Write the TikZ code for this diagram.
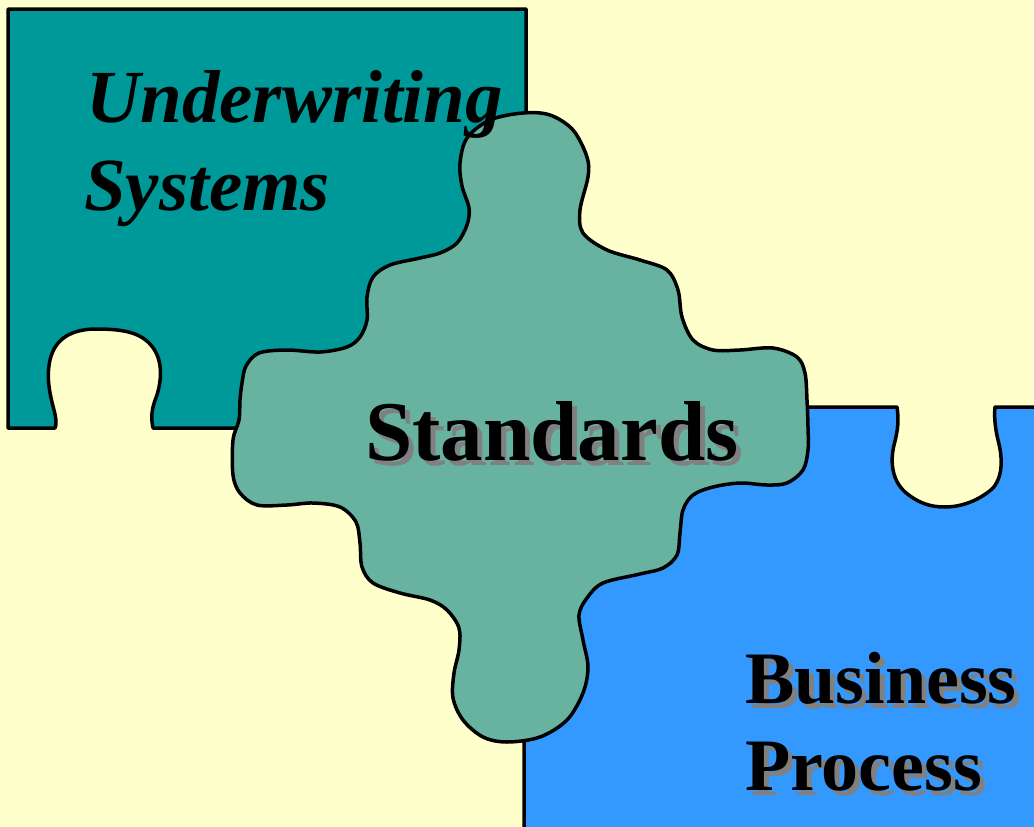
\documentclass[tikz,border=0pt]{standalone}
\usepackage{fontspec}
\setmainfont{Liberation Serif}
\definecolor{bgyellow}{HTML}{FFFFCC}
\definecolor{tealpiece}{HTML}{009999}
\definecolor{stdpiece}{RGB}{104,178,160}
\definecolor{bluepiece}{HTML}{3399FF}
\definecolor{shadowgray}{RGB}{128,128,128}
\tikzset{
  piece/.style={draw=black, line width=3.5pt, line join=round},
  lbl/.style={inner sep=0pt, anchor=base west, text=black},
  bigfont/.style={font=\fontsize{74}{87}\selectfont\bfseries},
  stdfont/.style={font=\fontsize{85}{100}\selectfont\bfseries},
}
\begin{document}
\begin{tikzpicture}[x=1pt,y=-1pt]
\fill[bgyellow] (0,0) rectangle (1034,827);
\useasboundingbox (0,0) rectangle (1034,827);
% teal piece
\draw[piece, fill=tealpiece] (8,9) -- (526,9) -- (526,428) -- (153,428)
  .. controls (150,415) and (153,405) .. (157,395)
  .. controls (163,375) and (162,355) .. (148,342)
  .. controls (135,330) and (115,329) .. (93,329)
  .. controls (72,330) and (55,338) .. (50,360)
  .. controls (46,378) and (50,395) .. (54,410)
  .. controls (56,418) and (57,424) .. (55,428)
  -- (8,428) -- cycle;
% blue piece
\draw[piece, fill=bluepiece] (524,840) -- (524,407) -- (897,407)
  .. controls (899,420) and (898,430) .. (894,445)
  .. controls (890,462) and (892,480) .. (905,492)
  .. controls (918,503) and (930,507) .. (945,507)
  .. controls (962,507) and (980,500) .. (993,488)
  .. controls (1004,475) and (1002,455) .. (998,440)
  .. controls (995,428) and (994,415) .. (995,407)
  -- (1045,407) -- (1045,840) -- cycle;
% standards piece
\draw[piece, fill=stdpiece] plot[smooth cycle, tension=0.55] coordinates {
(490,120) (523,113) (550,115) (573,130) (587,157) (588,177) (580,210) (583,233)
(607,250) (640,260) (667,270) (678,290) (682,317) (693,340) (713,350) (740,350)
(773,348) (797,357) (805,373) (807,400) (808,427) (808,450) (803,470) (787,483)
(767,485) (740,483) (713,487) (693,495) (683,510) (680,533) (677,555) (663,568)
(640,574) (603,583) (587,598) (579,615) (583,640) (588,667) (583,693) (567,720)
(540,737) (507,742) (483,737) (463,720) (453,698) (454,673) (459,650) (459,628)
(447,610) (430,600) (400,593) (373,583) (362,567) (360,543) (356,522) (340,507)
(313,503) (287,505) (257,505) (240,493) (233,475) (233,440) (239,420) (240,400)
(242,383) (246,366) (259,353) (287,350) (320,352) (347,347) (360,337) (367,320)
(367,297) (373,277) (390,265) (420,258) (440,253) (457,243) (467,225) (469,208)
(462,186) (460,163) (467,138)};
% labels
\node[lbl, font=\fontsize{75}{87}\selectfont\bfseries\itshape] (uw) at (86,122) {Underwriting};
\node[lbl, font=\fontsize{75}{87}\selectfont\bfseries\itshape] (sys) at (84,210) {Systems};
\node[lbl, stdfont, text=shadowgray] (stdsh) at (370,465) {Standards};
\node[lbl, stdfont] (std) at (365,460) {Standards};
\node[lbl, bigfont, text=shadowgray] (bussh) at (750,708) {Business};
\node[lbl, bigfont] (bus) at (745,703) {Business};
\node[lbl, bigfont, text=shadowgray] (procsh) at (750,795) {Process};
\node[lbl, bigfont] (proc) at (745,790) {Process};
\end{tikzpicture}
\end{document}
